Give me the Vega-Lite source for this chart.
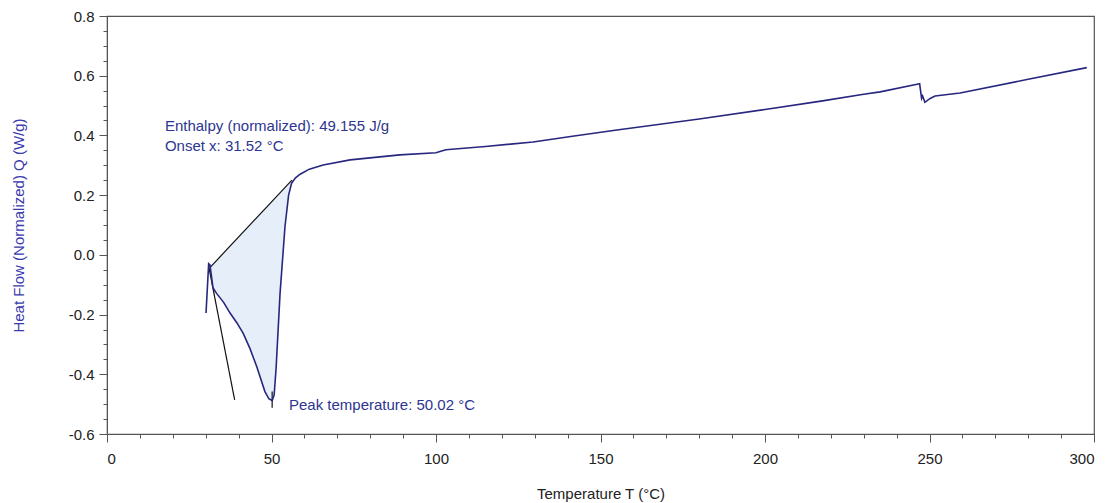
{
  "$schema": "https://vega.github.io/schema/vega-lite/v6.json",
  "autosize": "none",
  "width": 987,
  "height": 418,
  "padding": {"left": 107, "top": 16, "right": 25, "bottom": 69},
  "background": "white",
  "config": {
    "view": {"stroke": "#555555", "strokeWidth": 1.2},
    "font": "Liberation Sans",
    "axis": {
      "labelFont": "Liberation Sans",
      "labelFontSize": 15,
      "labelColor": "#222222",
      "titleFont": "Liberation Sans",
      "titleFontSize": 15,
      "titleFontWeight": "normal",
      "domainColor": "#555555",
      "tickColor": "#555555",
      "grid": false
    }
  },
  "datasets": {
    "curve": [
      {"i": 1, "T": 30.1, "Q": -0.195},
      {"i": 2, "T": 30.9, "Q": -0.03},
      {"i": 3, "T": 31.3, "Q": -0.034},
      {"i": 4, "T": 32.2, "Q": -0.11},
      {"i": 5, "T": 33.3, "Q": -0.129},
      {"i": 6, "T": 35.5, "Q": -0.16},
      {"i": 7, "T": 37.4, "Q": -0.195},
      {"i": 8, "T": 39.5, "Q": -0.228},
      {"i": 9, "T": 41.4, "Q": -0.263},
      {"i": 10, "T": 43.5, "Q": -0.315},
      {"i": 11, "T": 45.5, "Q": -0.374},
      {"i": 12, "T": 48.0, "Q": -0.458},
      {"i": 13, "T": 49.2, "Q": -0.482},
      {"i": 14, "T": 50.2, "Q": -0.488},
      {"i": 15, "T": 50.8, "Q": -0.47},
      {"i": 16, "T": 51.4, "Q": -0.38},
      {"i": 17, "T": 52.6, "Q": -0.129},
      {"i": 18, "T": 54.1, "Q": 0.095},
      {"i": 19, "T": 55.2, "Q": 0.2},
      {"i": 20, "T": 56.1, "Q": 0.24},
      {"i": 21, "T": 57.3, "Q": 0.258},
      {"i": 22, "T": 58.7, "Q": 0.27},
      {"i": 23, "T": 61.5, "Q": 0.287},
      {"i": 24, "T": 65.7, "Q": 0.301},
      {"i": 25, "T": 73.9, "Q": 0.318},
      {"i": 26, "T": 89.0, "Q": 0.335},
      {"i": 27, "T": 100.0, "Q": 0.342},
      {"i": 28, "T": 101.2, "Q": 0.346},
      {"i": 29, "T": 103.0, "Q": 0.352},
      {"i": 30, "T": 115.0, "Q": 0.363},
      {"i": 31, "T": 129.5, "Q": 0.378},
      {"i": 32, "T": 142.0, "Q": 0.398},
      {"i": 33, "T": 155.0, "Q": 0.418},
      {"i": 34, "T": 180.0, "Q": 0.455},
      {"i": 35, "T": 200.0, "Q": 0.487},
      {"i": 36, "T": 217.0, "Q": 0.515},
      {"i": 37, "T": 230.0, "Q": 0.538},
      {"i": 38, "T": 235.0, "Q": 0.546},
      {"i": 39, "T": 246.6, "Q": 0.572},
      {"i": 40, "T": 247.0, "Q": 0.573},
      {"i": 41, "T": 247.6, "Q": 0.524},
      {"i": 42, "T": 247.9, "Q": 0.532},
      {"i": 43, "T": 248.6, "Q": 0.511},
      {"i": 44, "T": 250.2, "Q": 0.524},
      {"i": 45, "T": 251.7, "Q": 0.532},
      {"i": 46, "T": 259.3, "Q": 0.542},
      {"i": 47, "T": 280.0, "Q": 0.588},
      {"i": 48, "T": 297.8, "Q": 0.627}
    ],
    "fill": [
      {"T": 31.5, "Q": -0.04, "B": -0.04},
      {"T": 32.2, "Q": -0.11, "B": -0.032},
      {"T": 33.3, "Q": -0.129, "B": -0.019},
      {"T": 35.5, "Q": -0.16, "B": 0.007},
      {"T": 37.4, "Q": -0.195, "B": 0.029},
      {"T": 39.5, "Q": -0.228, "B": 0.054},
      {"T": 41.4, "Q": -0.263, "B": 0.076},
      {"T": 43.5, "Q": -0.315, "B": 0.101},
      {"T": 45.5, "Q": -0.374, "B": 0.124},
      {"T": 48.0, "Q": -0.458, "B": 0.154},
      {"T": 49.2, "Q": -0.482, "B": 0.168},
      {"T": 50.2, "Q": -0.488, "B": 0.18},
      {"T": 50.8, "Q": -0.47, "B": 0.187},
      {"T": 51.4, "Q": -0.38, "B": 0.194},
      {"T": 52.6, "Q": -0.129, "B": 0.208},
      {"T": 54.1, "Q": 0.095, "B": 0.225},
      {"T": 55.2, "Q": 0.2, "B": 0.238},
      {"T": 56.2, "Q": 0.25, "B": 0.25}
    ],
    "guides": [
      {"seg": "baseline", "T": 31.5, "Q": -0.04},
      {"seg": "baseline", "T": 56.2, "Q": 0.25},
      {"seg": "tangent", "T": 30.9, "Q": -0.038},
      {"seg": "tangent", "T": 38.8, "Q": -0.486},
      {"seg": "peak", "T": 50.2, "Q": -0.458},
      {"seg": "peak", "T": 50.2, "Q": -0.512}
    ],
    "labels": [
      {"T": 17.6, "Q": 0.43, "text": "Enthalpy (normalized): 49.155 J/g"},
      {"T": 17.6, "Q": 0.363, "text": "Onset x: 31.52 °C"},
      {"T": 55.3, "Q": -0.503, "text": "Peak temperature: 50.02 °C"}
    ]
  },
  "resolve": {"axis": {"x": "independent", "y": "independent"}},
  "layer": [
    {
      "data": {"name": "fill"},
      "mark": {"type": "area", "color": "#e6eefa", "opacity": 1},
      "encoding": {
        "x": {"field": "T", "type": "quantitative", "scale": {"domain": [0, 300], "nice": false, "zero": false},
          "axis": {"orient": "bottom", "values": [10,20,30,40,60,70,80,90,110,120,130,140,160,170,180,190,210,220,230,240,260,270,280,290], "tickSize": 4, "labels": false, "domain": false, "title": null}},
        "y": {"field": "Q", "type": "quantitative", "scale": {"domain": [-0.6, 0.8], "nice": false, "zero": false},
          "axis": {"orient": "left", "values": [-0.55,-0.5,-0.45,-0.35,-0.3,-0.25,-0.15,-0.1,-0.05,0.05,0.1,0.15,0.25,0.3,0.35,0.45,0.5,0.55,0.65,0.7,0.75], "tickSize": 4, "labels": false, "domain": false, "title": null}},
        "y2": {"field": "B"}
      }
    },
    {
      "data": {"name": "guides"},
      "mark": {"type": "line", "color": "#111111", "strokeWidth": 1.2},
      "encoding": {
        "x": {"field": "T", "type": "quantitative", "axis": null},
        "y": {"field": "Q", "type": "quantitative", "axis": null},
        "detail": {"field": "seg"}
      }
    },
    {
      "data": {"name": "curve"},
      "mark": {"type": "line", "color": "#27277f", "strokeWidth": 1.6, "interpolate": "linear"},
      "encoding": {
        "x": {"field": "T", "type": "quantitative",
          "axis": {"orient": "bottom", "values": [0, 50, 100, 150, 200, 250, 300], "tickSize": 8, "labelPadding": 9,
            "title": "Temperature T (°C)", "titleColor": "#222222", "titleX": 493.5, "titleY": 52, "titleBaseline": "top"}},
        "y": {"field": "Q", "type": "quantitative",
          "axis": {"orient": "left", "values": [-0.6, -0.4, -0.2, 0, 0.2, 0.4, 0.6, 0.8], "format": ".1f",
            "labelExpr": "replace(datum.label, '\u2212', '-')", "tickSize": 8, "labelPadding": 5,
            "title": "Heat Flow (Normalized) Q (W/g)", "titleColor": "#3a3aae", "titleAngle": -90,
            "titleX": -89, "titleY": 209, "titleBaseline": "middle", "titleAlign": "center"}},
        "order": {"field": "i", "type": "quantitative"}
      }
    },
    {
      "data": {"name": "labels"},
      "mark": {"type": "text", "align": "left", "baseline": "middle", "font": "Liberation Sans", "fontSize": 15, "color": "#2d3590"},
      "encoding": {
        "x": {"field": "T", "type": "quantitative", "axis": null},
        "y": {"field": "Q", "type": "quantitative", "axis": null},
        "text": {"field": "text"}
      }
    }
  ]
}
